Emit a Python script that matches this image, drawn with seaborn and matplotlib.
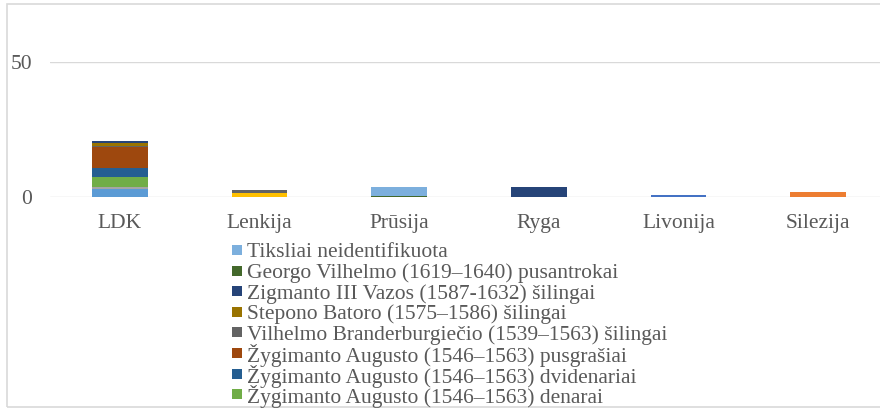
import matplotlib
matplotlib.use("Agg")
import matplotlib.pyplot as plt
from matplotlib.patches import Rectangle
import seaborn as sns

sns.set_style("white")
plt.rcParams["font.family"] = ["Liberation Serif", "DejaVu Serif"]

# ---------------------------------------------------
# Data
# ---------------------------------------------------
regions = ["LDK", "Lenkija", "Prūsija", "Ryga", "Livonija", "Silezija"]

series_names = [
    "Aleksandro (1492–1506) pusgrašiai",
    "Liudviko (1516–1526) denarai",
    "Žygimanto Senojo (1506–1548) pusgrašiai",
    "Žygimanto Senojo (1506–1548) denarai",
    "Livonijos ordino šilingai",
    "Žygimanto Augusto (1546–1563) denarai",
    "Žygimanto Augusto (1546–1563) dvidenariai",
    "Žygimanto Augusto (1546–1563) pusgrašiai",
    "Vilhelmo Branderburgiečio (1539–1563) šilingai",
    "Stepono Batoro (1575–1586) šilingai",
    "Zigmanto III Vazos (1587-1632) šilingai",
    "Georgo Vilhelmo (1619–1640) pusantrokai",
    "Tiksliai neidentifikuota",
]

series_values = [
    [2.85, 0, 0, 0, 0, 0],
    [0, 0, 0, 0, 0, 1.85],
    [1.0, 0, 0, 0, 0, 0],
    [0, 1.5, 0, 0, 0, 0],
    [0, 0, 0, 0, 0.75, 0],
    [3.7, 0, 0, 0, 0, 0],
    [3.1, 0, 0, 0, 0, 0],
    [8.0, 0, 0, 0, 0, 0],
    [0.3, 1.1, 0, 0, 0, 0],
    [1.0, 0, 0, 0, 0, 0],
    [0.75, 0, 0, 3.7, 0, 0],
    [0, 0, 0.4, 0, 0, 0],
    [0, 0, 3.3, 0, 0, 0],
]

colors = ["#5b9bd5", "#ed7d31", "#a5a5a5", "#ffc000", "#4472c4", "#70ad47",
          "#255e91", "#9e480e", "#636363", "#997300", "#264478", "#43682b",
          "#7cafdd"]

text_color = "#595959"
grid_color = "#d9d9d9"
W, H = 880, 409

# ---------------------------------------------------
# Plot
# ---------------------------------------------------
fig = plt.figure(figsize=(W / 100, H / 100), dpi=100)
ax = fig.add_axes([50 / W, 1 - 197 / H, 838 / W, (197 - 62.3) / H])

bottom = [0.0] * len(regions)
for name, vals, col in zip(series_names, series_values, colors):
    sns.barplot(x=regions, y=vals, color=col, saturation=1, width=0.4,
                bottom=bottom, ax=ax, errorbar=None, linewidth=0, zorder=3)
    bottom = [b + v for b, v in zip(bottom, vals)]

ax.set_xlim(-0.5, 5.5)
ax.set_ylim(0, 50)
ax.set_yticks([0, 50])
ax.set_xlabel("")
ax.set_ylabel("")
for s in ax.spines.values():
    s.set_visible(False)
ax.grid(axis="y", color=grid_color, linewidth=1.0, zorder=0)
ax.set_axisbelow(True)
ax.tick_params(axis="both", length=0, labelsize=15.5, colors=text_color)
ax.tick_params(axis="y", pad=13)
ax.tick_params(axis="x", pad=12)

# Legend: reversed series order, one row every ~20.6 px under the plot.
# Only the rows that fit in the picture are drawn (the rest are cut off).
row_h = 20.6
y0 = 250
for i, (name, col) in enumerate(zip(series_names[::-1], colors[::-1])):
    yc = y0 + i * row_h
    if yc > H - 10:
        break
    fig.patches.append(Rectangle((232 / W, 1 - (yc + 5) / H), 10 / W, 10 / H,
                                 transform=fig.transFigure,
                                 facecolor=col, edgecolor="none"))
    fig.text(247 / W, 1 - yc / H, name, fontsize=15.5, color=text_color,
             ha="left", va="center_baseline")

# chart border
fig.patches.append(Rectangle((7 / W, 2 / H), 1.0, 1 - 6 / H,
                             transform=fig.transFigure, fill=False,
                             edgecolor=grid_color, linewidth=1.2))

fig.savefig("out.png", dpi=100)
